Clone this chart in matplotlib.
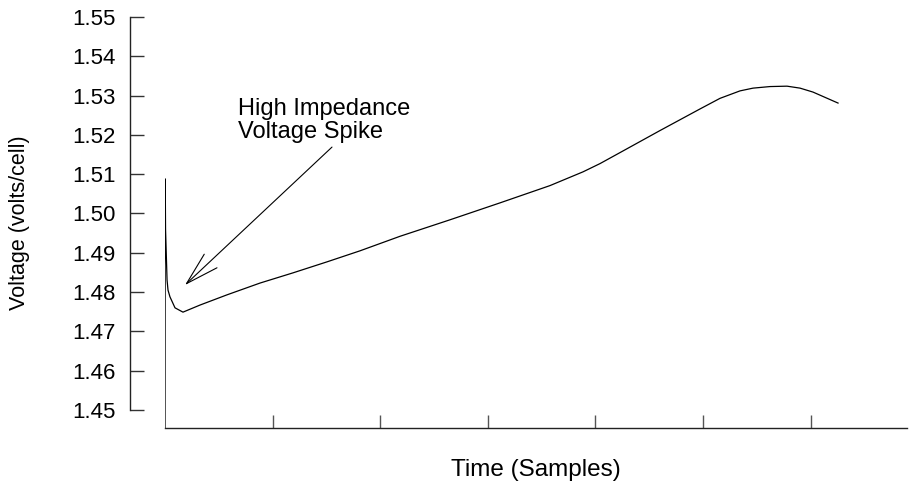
import matplotlib
matplotlib.use("Agg")
import matplotlib.pyplot as plt

plt.rcParams['font.family'] = ['Liberation Sans', 'DejaVu Sans']

# Data (time in samples, voltage in volts/cell)
time_samples = [0, 2, 5, 19, 28, 46, 93, 167, 325, 576, 883, 1190, 1506, 1812,
                2184, 2649, 3113, 3578, 3885, 4043, 4229, 4600, 4972, 5158,
                5344, 5465, 5623, 5781, 5902, 6022, 6255]
voltage = [1.440, 1.5088, 1.4960, 1.4831, 1.4805, 1.4788, 1.4760, 1.4749,
           1.4767, 1.4793, 1.4823, 1.4849, 1.4877, 1.4905, 1.4942, 1.4984,
           1.5027, 1.5071, 1.5106, 1.5127, 1.5155, 1.5211, 1.5266, 1.5293,
           1.5312, 1.5319, 1.5323, 1.5324, 1.5319, 1.5309, 1.5281]

y_ticks = [1.45, 1.46, 1.47, 1.48, 1.49, 1.50, 1.51, 1.52, 1.53, 1.54, 1.55]
y_ticklabels = ['1.45', '1.46', '1.47', '1.48', '1.49', '1.50', '1.51',
                '1.52', '1.53', '1.54', '1.55']
x_ticks = [1000, 2000, 3000, 4000, 5000, 6000]

annot_lines = ['High Impedance', 'Voltage Spike']
annot_tip = (186, 1.4818)
annot_tail = (1552, 1.5169)
annot_text_x = 678
annot_text_y = [1.5250, 1.5192]

fig = plt.figure(figsize=(9.09, 4.87), dpi=100)
ax = fig.add_axes([165/909, 59/487, 742/909, 411/487])

ax.plot(time_samples, voltage, color='black', lw=0.9)

ax.set_xlim(0, 6896)
ax.set_ylim(1.55 - 411/3930, 1.55)

ax.spines['top'].set_visible(False)
ax.spines['right'].set_visible(False)
ax.spines['left'].set_position(('outward', 25.2))
ax.spines['left'].set_bounds(1.45, 1.55)
for s in ('left', 'bottom'):
    ax.spines[s].set_linewidth(1.0)
    ax.spines[s].set_color('#222222')

ax.set_yticks(y_ticks)
ax.set_yticklabels(y_ticklabels)
ax.tick_params(axis='y', direction='in', length=10, width=1.0, color='#333333',
               pad=10.5, labelsize=16)
ax.set_xticks(x_ticks)
ax.set_xticklabels([])
ax.tick_params(axis='x', direction='in', length=9.4, width=1.0, color='#555555')

ax.set_ylabel('Voltage (volts/cell)', fontsize=15.5, labelpad=30)
ax.set_xlabel('Time (Samples)', fontsize=17.5, labelpad=19)

for line, yv in zip(annot_lines, annot_text_y):
    ax.text(annot_text_x, yv, line, fontsize=17, ha='left', va='baseline')

ax.annotate('', xy=annot_tip, xytext=annot_tail,
            arrowprops=dict(arrowstyle='->,head_length=23.8,head_width=6.7',
                            mutation_scale=1, lw=0.8, color='black',
                            shrinkA=0, shrinkB=0))

fig.savefig('out.png', dpi=100)
